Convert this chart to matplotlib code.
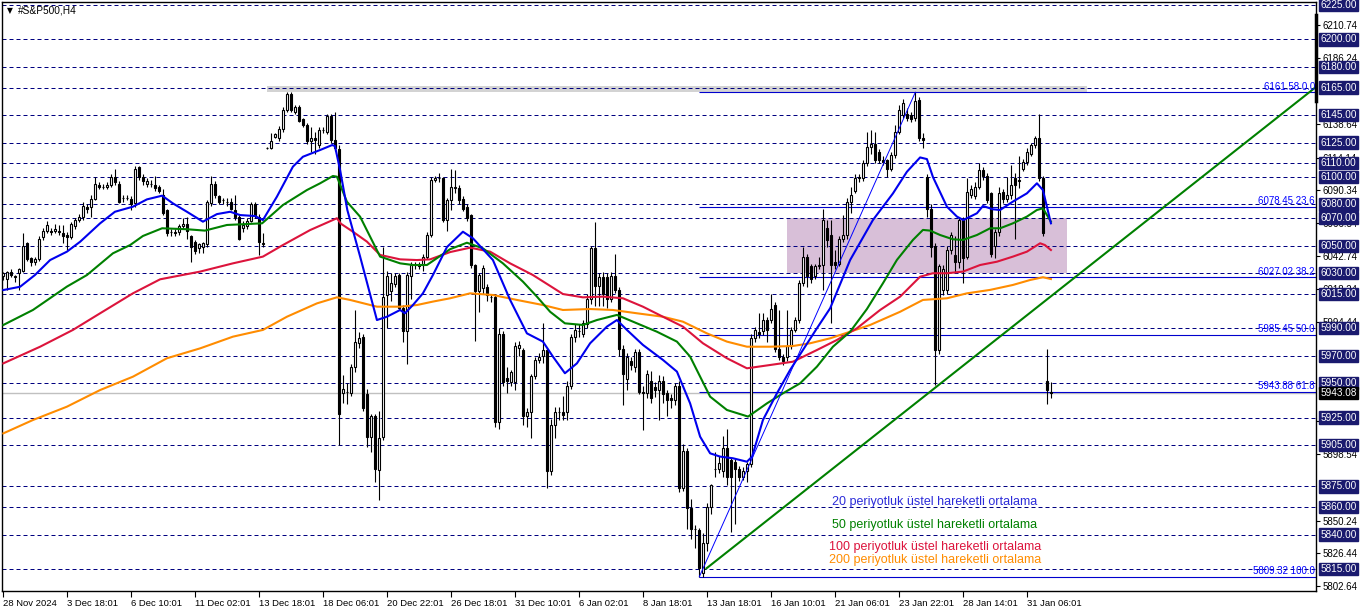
import matplotlib
matplotlib.use("Agg")
import matplotlib.pyplot as plt
import numpy as np
from matplotlib.patches import Rectangle

plt.rcParams['font.family'] = ['Liberation Sans', 'DejaVu Sans']

# H4 candles (bar index 0 = 28 Nov 2024)
opens = [6028, 6026, 6031, 6028, 6030, 6032, 6052, 6041, 6038, 6040,
         6056, 6061, 6061, 6061, 6061, 6059, 6058, 6056, 6064, 6069,
         6071, 6078, 6078, 6084, 6094, 6093, 6093, 6094, 6100, 6095,
         6085, 6085, 6084, 6081, 6107, 6100, 6095, 6095, 6094, 6093,
         6087, 6076, 6060, 6060, 6060, 6064, 6066, 6057, 6053, 6048,
         6049, 6051, 6081, 6095, 6086, 6083, 6082, 6082, 6076, 6071,
         6063, 6064, 6068, 6080, 6071, 6052, 6121, 6121, 6129, 6128,
         6135, 6149, 6160, 6147, 6151, 6142, 6138, 6126, 6128, 6123,
         6134, 6133, 6144, 6127, 6120, 5943, 5944, 5943, 5962, 5979,
         5984, 5942, 5911, 5926, 5887, 5911, 6014, 6017, 6022, 6029,
         6005, 5988, 6028, 6036, 6036, 6036, 6042, 6058, 6098, 6099,
         6099, 6069, 6083, 6092, 6092, 6084, 6078, 6072, 6036, 6017,
         6019, 6020, 6013, 6013, 5922, 5986, 5954, 5951, 5951, 5976,
         5974, 5926, 5929, 5955, 5967, 5970, 5974, 5886, 5920, 5929,
         5929, 5929, 5948, 5984, 5988, 5986, 5993, 6011, 6048, 6021,
         6027, 6027, 6011, 6028, 6018, 5975, 5953, 5966, 5962, 5973,
         5944, 5943, 5952, 5947, 5945, 5952, 5943, 5939, 5938, 5948,
         5874, 5901, 5859, 5844, 5843, 5812, 5834, 5860, 5888, 5888,
         5886, 5903, 5894, 5893, 5888, 5882, 5886, 5891, 5983, 5987,
         5988, 5996, 5996, 6007, 5975, 5969, 5969, 5977, 5989, 5996,
         6023, 6042, 6035, 6028, 6035, 6036, 6063, 6058, 6038, 6037,
         6055, 6058, 6082, 6090, 6099, 6099, 6110, 6122, 6124, 6118,
         6112, 6112, 6106, 6116, 6133, 6145, 6146, 6145, 6143, 6156,
         6128, 6100, 6077, 6050, 5974, 6018, 6018, 6047, 6043, 6038,
         6069, 6042, 6087, 6086, 6093, 6105, 6101, 6088, 6050, 6060,
         6089, 6084, 6087, 6099, 6097, 6106, 6111, 6117, 6123, 6128,
         6099, 5952, 5944]
highs = [6031, 6032, 6033, 6029, 6034, 6059, 6053, 6042, 6042, 6057,
         6063, 6068, 6063, 6066, 6065, 6065, 6060, 6067, 6070, 6073,
         6082, 6080, 6087, 6100, 6096, 6095, 6096, 6102, 6106, 6097,
         6087, 6087, 6086, 6108, 6108, 6102, 6099, 6098, 6101, 6094,
         6091, 6077, 6062, 6062, 6066, 6070, 6071, 6058, 6054, 6052,
         6053, 6083, 6101, 6097, 6087, 6085, 6085, 6085, 6087, 6072,
         6068, 6070, 6082, 6082, 6073, 6059, 6122, 6132, 6132, 6137,
         6151, 6162, 6162, 6152, 6152, 6143, 6139, 6136, 6133, 6136,
         6136, 6146, 6146, 6147, 6123, 5956, 5950, 5964, 6003, 5987,
         5986, 5946, 5928, 5928, 5930, 6049, 6032, 6030, 6030, 6030,
         6007, 6031, 6038, 6038, 6038, 6044, 6060, 6100, 6101, 6103,
         6100, 6085, 6106, 6105, 6094, 6086, 6080, 6073, 6037, 6030,
         6036, 6022, 6015, 6015, 5990, 5988, 5962, 5960, 5980, 5981,
         5976, 5932, 5957, 5969, 5972, 5994, 5976, 5924, 5933, 5933,
         5941, 5952, 5986, 5993, 5993, 5996, 6015, 6050, 6067, 6030,
         6031, 6030, 6031, 6044, 6020, 5978, 5972, 5969, 5975, 5975,
         5948, 5960, 5959, 5951, 5956, 5955, 5945, 5942, 5950, 5952,
         5906, 5903, 5866, 5847, 5845, 5841, 5863, 5877, 5900, 5897,
         5912, 5917, 5896, 5895, 5890, 5889, 5893, 5986, 5991, 6001,
         6001, 5998, 6015, 6009, 6003, 5971, 6003, 5991, 5998, 6025,
         6049, 6044, 6037, 6037, 6042, 6077, 6069, 6069, 6047, 6057,
         6072, 6085, 6093, 6102, 6102, 6112, 6133, 6134, 6133, 6120,
         6115, 6113, 6118, 6138, 6152, 6157, 6150, 6147, 6161.6, 6158,
         6132, 6102, 6080, 6052, 6037, 6036, 6050, 6060, 6057, 6071,
         6071, 6099, 6094, 6096, 6110, 6107, 6103, 6089, 6062, 6093,
         6091, 6100, 6109, 6103, 6115, 6113, 6121, 6125, 6130, 6146,
         6101, 5975, 5951]
lows = [6025, 6018, 6027, 6024, 6018, 6031, 6039, 6035, 6036, 6039,
        6054, 6059, 6058, 6059, 6058, 6052, 6047, 6055, 6062, 6067,
        6069, 6074, 6071, 6083, 6091, 6091, 6091, 6093, 6094, 6081,
        6082, 6083, 6076, 6078, 6098, 6094, 6093, 6093, 6090, 6088,
        6072, 6057, 6057, 6057, 6058, 6062, 6055, 6038, 6044, 6045,
        6045, 6049, 6079, 6085, 6080, 6080, 6079, 6076, 6069, 6054,
        6060, 6062, 6067, 6070, 6043, 6049, 6120, 6120, 6128, 6126,
        6133, 6147, 6147, 6146, 6140, 6136, 6124, 6118, 6117, 6121,
        6132, 6131, 6125, 6119, 5905, 5936, 5935, 5941, 5958, 5976,
        5930, 5904, 5900, 5878, 5865, 5909, 5990, 6010, 6020, 6003,
        5980, 5964, 6011, 6033, 6033, 6032, 6040, 6056, 6096, 6096,
        6067, 6061, 6076, 6088, 6080, 6075, 6068, 6034, 5981, 6002,
        6015, 6010, 6009, 5918, 5917, 5948, 5943, 5948, 5945, 5970,
        5920, 5918, 5910, 5953, 5965, 5965, 5874, 5883, 5910, 5923,
        5923, 5923, 5946, 5980, 5984, 5984, 5990, 6008, 6006, 6006,
        6006, 6005, 6009, 6016, 5970, 5934, 5945, 5960, 5958, 5942,
        5916, 5939, 5936, 5940, 5923, 5936, 5926, 5932, 5934, 5871,
        5872, 5844, 5837, 5830, 5809, 5809, 5828, 5855, 5882, 5885,
        5882, 5876, 5842, 5848, 5879, 5880, 5878, 5889, 5980, 5983,
        5985, 5980, 5994, 5973, 5967, 5963, 5966, 5975, 5987, 5994,
        6021, 6020, 6023, 6026, 6033, 6018, 6049, 5994, 6033, 6035,
        6053, 6055, 6074, 6088, 6096, 6097, 6108, 6117, 6110, 6110,
        6109, 6100, 6104, 6114, 6131, 6143, 6141, 6140, 6141, 6126,
        6121, 6071, 6042, 5949, 5971, 6014, 6015, 6044, 6031, 6034,
        6023, 6040, 6085, 6084, 6091, 6098, 6081, 6042, 6041, 6057,
        6081, 6082, 6084, 6055, 6092, 6104, 6109, 6115, 6121, 6097,
        6057, 5935, 5939]
closes = [6030, 6031, 6029, 6027, 6033, 6050, 6040, 6038, 6040, 6055,
          6061, 6065, 6060, 6062, 6060, 6057, 6056, 6066, 6069, 6071,
          6079, 6077, 6084, 6095, 6093, 6093, 6094, 6100, 6096, 6082,
          6085, 6085, 6080, 6106, 6100, 6097, 6097, 6095, 6092, 6090,
          6074, 6059, 6060, 6059, 6064, 6066, 6061, 6049, 6046, 6051,
          6052, 6082, 6095, 6087, 6082, 6083, 6082, 6077, 6071, 6055,
          6065, 6068, 6080, 6072, 6053, 6051, 6121, 6126, 6131, 6135,
          6149, 6160, 6149, 6151, 6141, 6138, 6126, 6128, 6127, 6134,
          6134, 6144, 6127, 6121, 5928, 5946, 5944, 5962, 5980, 5983,
          5932, 5911, 5926, 5888, 5910, 6013, 6028, 6023, 6028, 6005,
          5988, 6029, 6036, 6036, 6035, 6042, 6058, 6098, 6099, 6099,
          6069, 6083, 6093, 6093, 6083, 6077, 6070, 6036, 6017, 6029,
          6034, 6014, 6013, 5922, 5986, 5951, 5952, 5958, 5977, 5978,
          5926, 5929, 5955, 5967, 5969, 5974, 5886, 5920, 5929, 5929,
          5927, 5948, 5984, 5989, 5988, 5994, 6011, 6048, 6021, 6027,
          6015, 6011, 6028, 6018, 5975, 5957, 5969, 5963, 5973, 5944,
          5943, 5957, 5939, 5945, 5952, 5942, 5938, 5938, 5948, 5874,
          5901, 5859, 5844, 5844, 5816, 5834, 5860, 5876, 5888, 5892,
          5903, 5882, 5882, 5888, 5882, 5886, 5891, 5983, 5989, 5986,
          5996, 5989, 6004, 5975, 5969, 5966, 5977, 5989, 5996, 6023,
          6042, 6028, 6026, 6035, 6036, 6069, 6054, 6036, 6036, 6055,
          6058, 6082, 6087, 6099, 6100, 6110, 6122, 6124, 6112, 6112,
          6111, 6106, 6116, 6133, 6149, 6154, 6143, 6142, 6155, 6128,
          6127, 6077, 6049, 5974, 6035, 6033, 6047, 6058, 6038, 6069,
          6041, 6089, 6091, 6093, 6105, 6101, 6083, 6044, 6060, 6088,
          6084, 6087, 6094, 6094, 6098, 6111, 6118, 6123, 6128, 6099,
          6059, 5945, 5943]

# moving averages, sampled along the drawn lines (bar position, value)
ema20_bar = [0, 4.2, 7.9, 11.7, 15.9, 19.2, 24.2, 27.9, 32.4, 35.9, 39.7, 42.4, 45.9, 49.9,
             53.4, 56.7, 59.2, 62.9, 64.9, 68.4, 72.4, 74.9, 79.2, 82.2, 82.9, 84.2, 86,
             89.2, 93.4, 95.9, 99.2, 100.4, 102.4, 104.9, 107.4, 110.9, 114.9, 117.4, 122.4,
             126.7, 130.9, 134.9, 137.4, 140.4, 143.4, 146.7, 150.9, 153.4, 155.9, 159.9,
             164.9, 168.4, 171.7, 174.2, 176.7, 179.2, 182.4, 185.9, 187.2, 189.9, 193.4,
             196.7, 199.9, 203.4, 206.7, 211.7, 217.4, 222.4, 225.9, 229.2, 230.9, 232.4,
             235.9, 238.4, 240.0, 243.4, 244.9, 247.4, 249.2, 252.4, 255.9, 258.4, 259.9, 261.9]
ema20_val = [6017.8, 6020.2, 6028.7, 6039.6, 6045.7, 6052.9, 6066.3, 6074.7, 6078.4, 6083.7,
             6086.4, 6080.8, 6074.7, 6067.5, 6073.0, 6074.7, 6072.3, 6071.6, 6068.7, 6085.7,
             6107.5, 6114.7, 6119.6, 6123.2, 6122.5, 6105.0, 6076.0, 6042.1, 5996.0, 5998.4,
             6003.3, 6000.9, 6006.9, 6015.4, 6028.7, 6049.0, 6060.2, 6055.4, 6039.6, 6010.6,
             5986.3, 5980.3, 5969.4, 5957.3, 5964.5, 5979.1, 5991.2, 5996.0, 5988.8, 5977.9,
             5967.0, 5958.5, 5935.4, 5911.2, 5899.1, 5896.7, 5895.5, 5893.0, 5896.7, 5923.3,
             5942.7, 5959.7, 5974.2, 5990.0, 6004.5, 6039.6, 6068.7, 6088.0, 6103.8, 6114.2,
             6113.0, 6100.0, 6078.4, 6071.2, 6068.7, 6073.6, 6078.9, 6076.5, 6076.0, 6082.1,
             6088.1, 6095.4, 6090.5, 6066.3]

ema50_bar = [0, 7.4, 15.9, 20.9, 27.4, 31.7, 34.9, 39.7, 45.9, 50.4, 55.9, 64.7, 69.9, 75.9,
             79.2, 82.4, 83.4, 85.9, 89.2, 94.2, 99.2, 102.4, 105.9, 111.7, 115.9, 119.9,
             124.9, 129.9, 133.4, 136.7, 140.4, 144.9, 148.4, 153.4, 158.4, 163.4, 168.4,
             171.7, 176.7, 180.9, 186.2, 190.9, 194.9, 199.2, 203.4, 207.4, 211.7, 215.9,
             219.9, 223.4, 227.4, 229.9, 231.7, 234.2, 237.4, 239.9, 243.4, 246.7, 249.2,
             252.4, 255.9, 258.4, 259.9, 261.9]
ema50_val = [5992.4, 6003.3, 6020.3, 6028.7, 6044.5, 6050.5, 6057.1, 6062.7, 6062.0, 6061.0,
             6065.1, 6066.3, 6079.6, 6090.5, 6095.4, 6100.7, 6100.2, 6082.0, 6071.1, 6042.1,
             6037.2, 6036.0, 6036.0, 6047.5, 6052.2, 6048.1, 6037.2, 6023.9, 6013.0, 6002.0,
             5993.6, 5992.4, 5996.0, 5999.7, 5993.6, 5987.5, 5980.3, 5969.4, 5940.3, 5930.6,
             5925.8, 5935.4, 5942.7, 5950.0, 5962.1, 5976.6, 5987.5, 6004.0, 6022.7, 6039.7,
             6054.2, 6061.5, 6061.0, 6057.8, 6054.7, 6054.2, 6057.8, 6062.7, 6062.7, 6066.3,
             6071.2, 6076.0, 6077.2, 6067.5]

ema100_bar = [0, 9.2, 17.4, 24.2, 32.4, 39.2, 49.2, 57.4, 64.9, 69.9, 76.7, 83.4, 84.4, 87.4,
              90.9, 94.2, 99.2, 103.4, 106.7, 111.7, 116.7, 121.7, 126.7, 132.4, 139.9,
              144.9, 149.9, 154.9, 159.9, 164.9, 169.9, 174.9, 180.9, 185.9, 191.7, 197.4,
              203.4, 208.4, 213.4, 219.2, 224.2, 229.2, 232.4, 235.9, 239.9, 244.2, 248.4,
              252.4, 255.9, 259.2, 260.4, 261.9]
ema100_val = [5964.5, 5976.6, 5988.8, 6000.9, 6015.4, 6025.6, 6031.2, 6037.2, 6042.1, 6050.5,
              6061.4, 6070.0, 6066.0, 6060.2, 6053.0, 6043.3, 6040.1, 6039.6, 6040.1, 6045.4,
              6048.6, 6045.7, 6037.2, 6028.7, 6014.9, 6012.5, 6013.0, 6011.8, 6005.7, 5998.4,
              5991.2, 5979.1, 5968.2, 5960.9, 5963.3, 5965.7, 5974.2, 5981.5, 5990.0, 6003.3,
              6013.0, 6027.5, 6030.0, 6030.0, 6031.2, 6036.0, 6038.4, 6042.1, 6045.7, 6051.8,
              6050.5, 6046.9]

ema200_bar = [0, 7.4, 15.9, 24.2, 32.4, 40.9, 49.2, 57.4, 64.9, 70.9, 78.4, 83.4, 86.7, 93.4,
              99.2, 103.4, 107.4, 111.7, 116.7, 122.4, 128.4, 134.9, 139.9, 146.7, 152.4,
              158.4, 164.9, 169.9, 175.9, 180.9, 185.9, 191.7, 197.4, 201.7, 206.7, 211.7,
              216.7, 224.2, 229.9, 235.9, 240.9, 246.7, 252.4, 256.7, 259.9, 261.9]
ema200_val = [5913.6, 5923.3, 5933.0, 5945.1, 5954.8, 5968.2, 5975.4, 5983.9, 5988.8, 5998.4,
              6008.1, 6012.5, 6010.6, 6005.7, 6005.7, 6006.9, 6009.4, 6011.8, 6015.4, 6014.2,
              6010.6, 6006.9, 6003.3, 6004.0, 6003.3, 6000.9, 5998.4, 5994.8, 5986.3, 5980.3,
              5976.6, 5976.6, 5977.1, 5979.1, 5982.7, 5987.5, 5992.4, 6002.0, 6010.6, 6011.8,
              6015.4, 6017.9, 6021.5, 6025.1, 6027.1, 6025.8]

# horizontal levels and axis text (price-scale ticks hidden under the level boxes left out)
levels = [6225, 6200, 6180, 6165, 6145, 6125, 6110, 6100, 6080, 6070, 6050,
          6030, 6015, 5990, 5970, 5950, 5925, 5905, 5875, 5860, 5840, 5815]
axis_ticks = [6210.74, 6186.24, 6138.64, 6114.14, 6090.34, 6066.54, 6042.74,
              6018.24, 5994.44, 5922.54, 5898.54, 5850.24, 5826.44, 5802.64]
bid = 5943.08

fibo_levels = [6161.58, 6078.45, 6027.02, 5985.45, 5943.88, 5809.32]
fibo_names = ['0.0', '23.6', '38.2', '50.0', '61.8', '100.0']
fibo_low_bar, fibo_high_bar = 174, 228

trend_bars = [175.8, 328.2]
trend_prices = [5815.5, 6165.5]

zone_bars = [195.9, 265.9]
zone_prices = [6030.5, 6070.2]
top_band_bars = [65.9, 270.9]
top_band_prices = [6162.0, 6166.1]

time_ticks = list(range(0, 257, 16))
time_labels = ['28 Nov 2024', '3 Dec 18:01', '6 Dec 10:01', '11 Dec 02:01', '13 Dec 18:01',
               '18 Dec 06:01', '20 Dec 22:01', '26 Dec 18:01', '31 Dec 10:01', '6 Jan 02:01',
               '8 Jan 18:01', '13 Jan 18:01', '16 Jan 10:01', '21 Jan 06:01', '23 Jan 22:01',
               '28 Jan 14:01', '31 Jan 06:01']

fig = plt.figure(figsize=(13.62, 6.11), dpi=100)
fig.patch.set_facecolor('white')
ax = fig.add_axes([2 / 1362, 20 / 611, 1314 / 1362, 589 / 611])
ax.set_facecolor('white')
xmax = 328.17
ax.set_xlim(-0.33, xmax)
ax.set_ylim(5799.0, 6227.2)

# background objects
ax.add_patch(Rectangle((top_band_bars[0], top_band_prices[0]), top_band_bars[1] - top_band_bars[0],
                       top_band_prices[1] - top_band_prices[0], facecolor='#d3d3d3',
                       edgecolor='none', zorder=0.5))
ax.add_patch(Rectangle((zone_bars[0], zone_prices[0]), zone_bars[1] - zone_bars[0],
                       zone_prices[1] - zone_prices[0], facecolor='#d8bfd8',
                       edgecolor='none', zorder=0.5))

for p in levels:
    ax.axhline(p, color='#000080', lw=0.72, ls=(0, (4, 3)), zorder=1)
ax.axhline(bid, color='#c0c0c0', lw=1.0, zorder=1)

# fibonacci levels
ax.hlines(fibo_levels, fibo_low_bar, xmax, color='#0000cd', lw=0.8, zorder=1.2)
for lvl, name in zip(fibo_levels, fibo_names):
    ax.text(xmax - 0.3, lvl + 0.4, f'{lvl:.2f} {name}', ha='right', va='bottom',
            color='#0000ff', fontsize=7, zorder=5)
ax.plot([fibo_low_bar, fibo_high_bar], [fibo_levels[-1], fibo_levels[0]],
        color='#0000ff', lw=0.7, zorder=4.5)

# candles
idx = np.arange(len(closes))
o = np.array(opens, dtype=float)
c = np.array(closes, dtype=float)
h = np.array(highs, dtype=float)
l = np.array(lows, dtype=float)
up = c >= o
ax.vlines(idx, l, h, color='black', lw=0.8, zorder=2)
body_lo = np.minimum(o, c)
body_h = np.abs(c - o)
ax.bar(idx[up], body_h[up], bottom=body_lo[up], width=0.55, color='white',
       edgecolor='black', linewidth=0.8, zorder=3)
ax.bar(idx[~up], body_h[~up], bottom=body_lo[~up], width=0.55, color='black',
       edgecolor='black', linewidth=0.8, zorder=3)

# moving averages
ax.plot(ema200_bar, ema200_val, color='#ff8c00', lw=1.5, zorder=4)
ax.plot(ema100_bar, ema100_val, color='#dc143c', lw=1.5, zorder=4)
ax.plot(ema50_bar, ema50_val, color='#008000', lw=1.5, zorder=4)
ax.plot(ema20_bar, ema20_val, color='#0000ee', lw=1.5, zorder=4)

# rising trend line
ax.plot(trend_bars, trend_prices, color='#008000', lw=1.5, zorder=4.5)

# legend notes
ax.text(232.9, 5863.7, '20 periyotluk üstel hareketli ortalama', color='#2b2bd9',
        fontsize=9, ha='center', va='center', zorder=5)
ax.text(232.9, 5847.0, '50 periyotluk üstel hareketli ortalama', color='#008000',
        fontsize=9, ha='center', va='center', zorder=5)
ax.text(232.9, 5831.0, '100 periyotluk üstel hareketli ortalama', color='#dc143c',
        fontsize=9, ha='center', va='center', zorder=5)
ax.text(232.9, 5821.5, '200 periyotluk üstel hareketli ortalama', color='#ff8c00',
        fontsize=9, ha='center', va='center', zorder=5)

# title in corner
ax.text(0.0035, 0.985, '▼', transform=ax.transAxes, fontsize=5.5, ha='left', va='center',
        family='DejaVu Sans')
ax.text(0.0125, 0.985, '#S&P500,H4', transform=ax.transAxes, fontsize=7.3,
        ha='left', va='center')

# axes
for s in ax.spines.values():
    s.set_color('black')
    s.set_linewidth(1.0)
ax.plot([1.0, 1.0], [0.832, 0.978], transform=ax.transAxes, color='black', lw=2.5,
        clip_on=False, zorder=6)

ax.set_xticks(time_ticks)
ax.set_xticklabels(time_labels, ha='left')
ax.tick_params(axis='x', length=4, width=0.8, pad=1.5, labelsize=6.8, direction='out')

ax.yaxis.tick_right()
ax.set_yticks(axis_ticks)
ax.set_yticklabels([f'{v:.2f}' for v in axis_ticks])
ax.tick_params(axis='y', length=3, width=0.8, pad=2, labelsize=7)

ytr = ax.get_yaxis_transform()
for p in levels:
    ax.text(1.0035, p, f'{p:.2f}', transform=ytr, ha='left', va='center', color='white',
            fontsize=7.2, clip_on=False, zorder=10,
            bbox=dict(boxstyle='square,pad=0.12', fc='#1a1a6e', ec='#1a1a6e'))
ax.text(1.0035, bid, f'{bid:.2f}', transform=ytr, ha='left', va='center', color='white',
        fontsize=7.2, clip_on=False, zorder=11,
        bbox=dict(boxstyle='square,pad=0.12', fc='black', ec='black'))

fig.savefig('out.png', dpi=100, facecolor='white')
